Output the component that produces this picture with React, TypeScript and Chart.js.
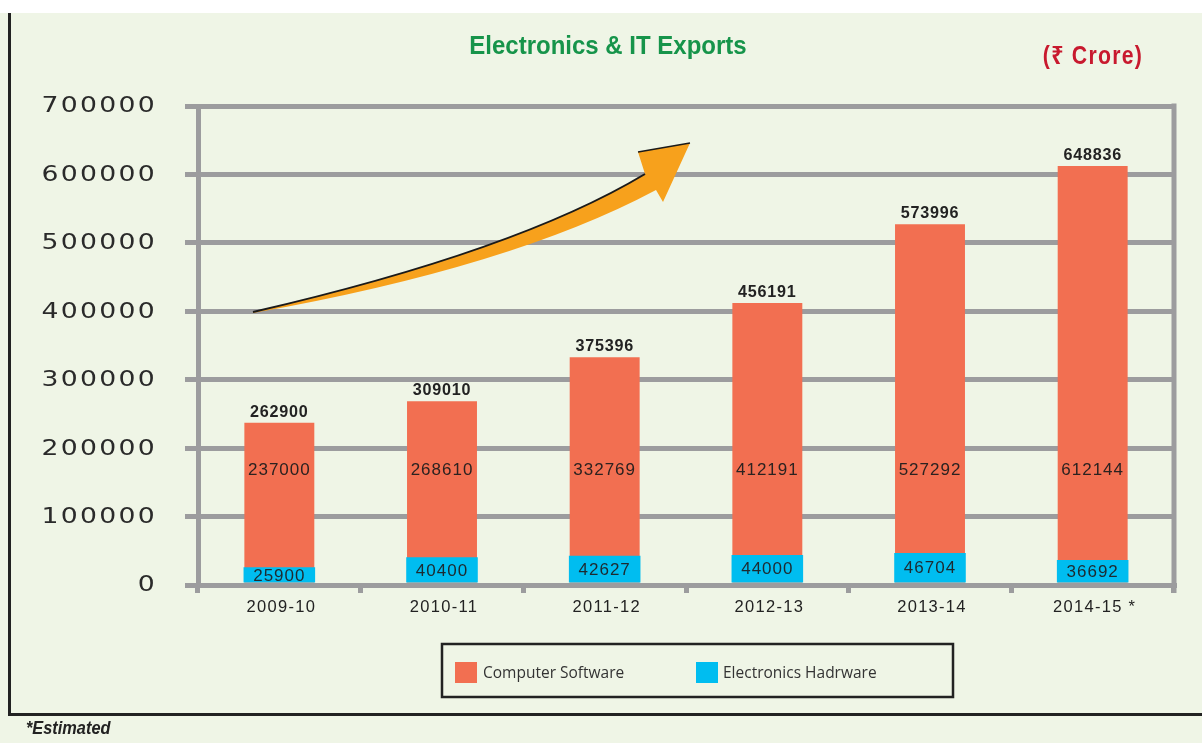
import React, { useEffect, useRef } from "react";
import { Chart, registerables } from "chart.js";

Chart.register(...registerables);

const categories = ["2009-10", "2010-11", "2011-12", "2012-13", "2013-14", "2014-15 *"];
const softwareValues = [237000, 268610, 332769, 412191, 527292, 612144];
const hardwareValues = [25900, 40400, 42627, 44000, 46704, 36692];
const totalValues = [262900, 309010, 375396, 456191, 573996, 648836];
const yTickValues = [0, 100000, 200000, 300000, 400000, 500000, 600000, 700000];
const seriesNames = ["Computer Software", "Electronics Hadrware"];

const W = 1202;
const H = 743;
const BG = "#eff5e6";
const GRAY = "#9c9c9e";
const ORANGE = "#f26f51";
const BLUE = "#00bdf0";

function scaledText(ctx: any, text: string, x: number, y: number, sx: number) {
  ctx.save();
  ctx.translate(x, y);
  ctx.scale(sx, 1);
  ctx.fillText(text, 0, 0);
  ctx.restore();
}

const decor = {
  id: "decor",
  beforeDraw(chart: any) {
    const ctx = chart.ctx;
    ctx.save();
    ctx.fillStyle = BG;
    ctx.fillRect(0, 0, W, H);
    ctx.fillStyle = "#ffffff";
    ctx.fillRect(0, 0, W, 13);
    ctx.restore();
  },
  afterDraw(chart: any) {
    const ctx = chart.ctx;
    const ca = chart.chartArea;
    const xs = chart.scales.x;
    const ys = chart.scales.y;
    const P = (x: number, y: number): [number, number] => [
      ca.left + ((x - 198) / 976) * (ca.right - ca.left),
      ca.top + ((y - 106) / 479) * (ca.bottom - ca.top),
    ];
    ctx.save();

    // outer black frame
    ctx.strokeStyle = "#222";
    ctx.lineWidth = 3;
    ctx.beginPath();
    ctx.moveTo(9.5, 13);
    ctx.lineTo(9.5, 714.5);
    ctx.lineTo(W, 714.5);
    ctx.stroke();

    // right gray border
    ctx.strokeStyle = GRAY;
    ctx.lineWidth = 5;
    ctx.beginPath();
    ctx.moveTo(ca.right, ca.top - 2.5);
    ctx.lineTo(ca.right, ca.bottom + 8);
    ctx.stroke();

    // y tick labels
    ctx.fillStyle = "#2a2a2a";
    ctx.font = "21px 'DejaVu Sans'";
    (ctx as any).letterSpacing = "1.8px";
    ctx.textAlign = "right";
    ctx.textBaseline = "middle";
    yTickValues.forEach((v) => {
      scaledText(ctx, String(v), 157, ys.getPixelForValue(v) + 1, 1.27);
    });
    (ctx as any).letterSpacing = "0px";

    // x tick labels
    ctx.fillStyle = "#222";
    ctx.font = "16.5px 'Liberation Sans'";
    (ctx as any).letterSpacing = "1.3px";
    ctx.textAlign = "center";
    categories.forEach((c, i) => {
      ctx.fillText(c, xs.getPixelForValue(i) + 2, ca.bottom + 22);
    });
    (ctx as any).letterSpacing = "0px";

    // arrow
    const S = P(253, 312);
    const C1 = P(517, 251);
    const E1 = P(645, 174);
    const E2 = P(656, 190);
    const C2 = P(512, 267);
    const S2 = P(253, 313);
    ctx.fillStyle = "#f7a11c";
    ctx.beginPath();
    ctx.moveTo(S[0], S[1]);
    ctx.quadraticCurveTo(C1[0], C1[1], E1[0], E1[1]);
    const h1 = P(638, 152), h2 = P(690, 143), h3 = P(663, 202);
    ctx.lineTo(h1[0], h1[1]);
    ctx.lineTo(h2[0], h2[1]);
    ctx.lineTo(h3[0], h3[1]);
    ctx.lineTo(E2[0], E2[1]);
    ctx.quadraticCurveTo(C2[0], C2[1], S2[0], S2[1]);
    ctx.closePath();
    ctx.fill();
    ctx.strokeStyle = "#1a1a1a";
    ctx.lineWidth = 2;
    ctx.beginPath();
    ctx.moveTo(S[0], S[1]);
    ctx.quadraticCurveTo(C1[0], C1[1], E1[0], E1[1]);
    ctx.stroke();
    ctx.lineWidth = 1.5;
    ctx.beginPath();
    ctx.moveTo(h1[0], h1[1]);
    ctx.lineTo(h2[0], h2[1]);
    ctx.stroke();

    // data labels
    const swMeta = chart.getDatasetMeta(0);
    const hwMeta = chart.getDatasetMeta(1);
    ctx.textAlign = "center";
    ctx.textBaseline = "middle";
    swMeta.data.forEach((bar: any, i: number) => {
      ctx.fillStyle = "#222";
      ctx.font = "bold 17px 'Liberation Sans'";
      (ctx as any).letterSpacing = "0.8px";
      scaledText(ctx, String(totalValues[i]), bar.x, bar.y - 11, 0.95);
      ctx.fillStyle = "#2b2220";
      ctx.font = "17px 'Liberation Sans'";
      (ctx as any).letterSpacing = "1px";
      ctx.fillText(String(softwareValues[i]), bar.x, ys.getPixelForValue(168000));
    });
    hwMeta.data.forEach((bar: any, i: number) => {
      ctx.fillStyle = "#1d2a30";
      ctx.font = "17px 'Liberation Sans'";
      (ctx as any).letterSpacing = "1px";
      ctx.fillText(String(hardwareValues[i]), bar.x, (bar.y + bar.base) / 2 + 1);
    });
    (ctx as any).letterSpacing = "0px";

    // title
    ctx.fillStyle = "#16944a";
    ctx.font = "bold 25px 'Liberation Sans'";
    ctx.textAlign = "center";
    scaledText(ctx, "Electronics & IT Exports", 608, 47, 0.96);
    ctx.fillStyle = "#c8192e";
    ctx.font = "bold 25px 'Liberation Sans', 'Noto Sans', sans-serif";
    (ctx as any).letterSpacing = "1.5px";
    scaledText(ctx, "(\u20B9 Crore)", 1093, 57, 0.85);
    (ctx as any).letterSpacing = "0px";

    // legend
    ctx.strokeStyle = "#222";
    ctx.lineWidth = 2.5;
    ctx.strokeRect(442, 644, 511, 53);
    const ds = chart.data.datasets;
    const legendItems = [
      { x: 455, tx: 483 },
      { x: 696, tx: 723 },
    ];
    legendItems.forEach((it, k) => {
      ctx.fillStyle = ds[k].backgroundColor;
      ctx.fillRect(it.x, 662, 22, 21);
      ctx.fillStyle = "#333";
      ctx.font = "15.5px 'Open Sans'";
      ctx.textAlign = "left";
      ctx.fillText(ds[k].label, it.tx, 674);
    });

    // footnote
    ctx.fillStyle = "#222";
    ctx.font = "italic bold 19px 'Liberation Sans'";
    ctx.textAlign = "left";
    scaledText(ctx, "*Estimated", 26, 729, 0.86);

    ctx.restore();
  },
};

export default function App() {
  const ref = useRef<HTMLCanvasElement | null>(null);
  useEffect(() => {
    if (!ref.current) return;
    const chart = new Chart(ref.current, {
      type: "bar",
      data: {
        labels: categories,
        datasets: [
          {
            label: seriesNames[0],
            data: softwareValues,
            backgroundColor: ORANGE,
            grouped: false,
            order: 2,
            barPercentage: 0.43,
            categoryPercentage: 1,
          } as any,
          {
            label: seriesNames[1],
            data: hardwareValues,
            backgroundColor: BLUE,
            grouped: false,
            order: 1,
            barPercentage: 0.44,
            categoryPercentage: 1,
          } as any,
        ],
      },
      options: {
        responsive: false,
        animation: false,
        devicePixelRatio: 1,
        layout: { padding: { top: 106, right: 28, left: 0, bottom: 0 } },
        plugins: {
          legend: { display: false },
          title: { display: false },
          tooltip: { enabled: false },
        },
        scales: {
          x: {
            offset: true,
            grid: {
              drawOnChartArea: false,
              drawTicks: true,
              tickLength: 8,
              color: GRAY,
              lineWidth: 5,
              offset: true,
            },
            border: { display: true, color: GRAY, width: 5 },
            ticks: {
              color: "rgba(0,0,0,0)",
              font: { family: "'Liberation Sans'", size: 16 },
              padding: 5,
              maxRotation: 0,
              autoSkip: false,
            },
            afterFit: (s: any) => {
              s.height = 158;
            },
          },
          y: {
            min: 0,
            max: 700000,
            ticks: { stepSize: 100000, color: "rgba(0,0,0,0)", font: { size: 21 } },
            grid: { color: GRAY, lineWidth: 5, tickLength: 13 },
            border: { display: true, color: GRAY, width: 5 },
            afterFit: (s: any) => {
              s.width = 198;
            },
          },
        },
      } as any,
      plugins: [decor],
    });
    return () => chart.destroy();
  }, []);
  return (
    <div style={{ position: "fixed", left: 0, top: 0, width: W, height: H, background: BG }}>
      <canvas ref={ref} width={W} height={H} style={{ display: "block", width: W, height: H }} />
    </div>
  );
}
